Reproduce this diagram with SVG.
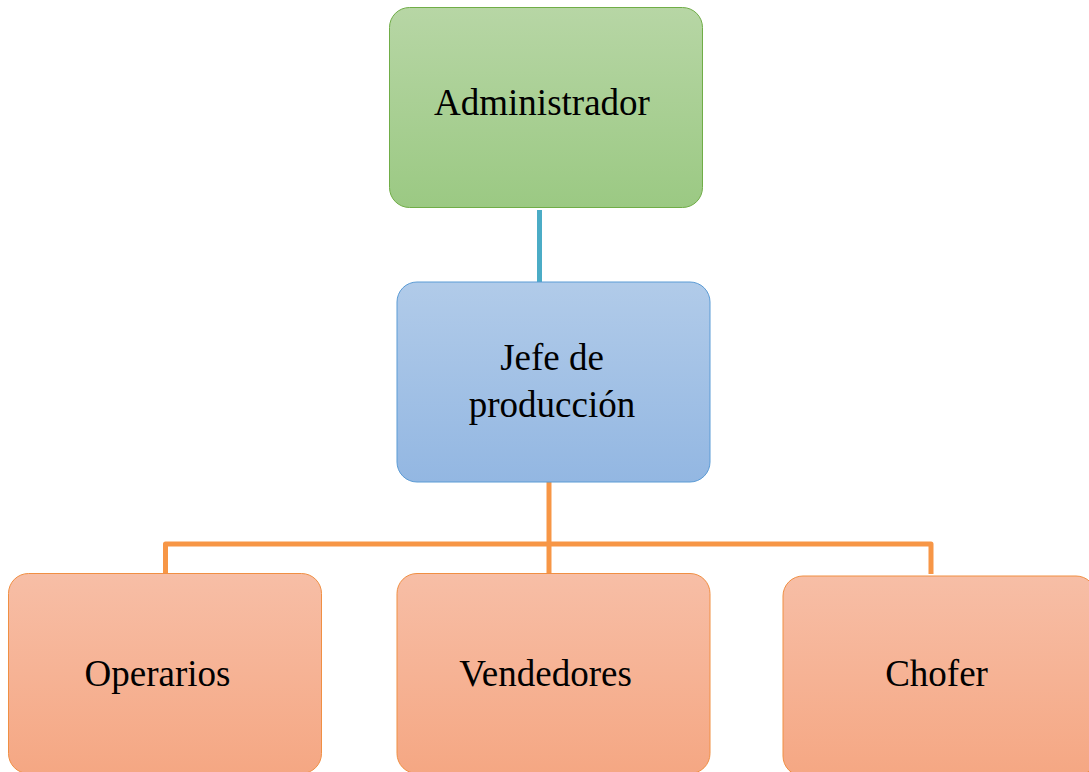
<svg xmlns="http://www.w3.org/2000/svg" width="1089" height="772" viewBox="0 0 1089 772">
<defs>
<linearGradient id="gG" x1="0" y1="0" x2="0" y2="1"><stop offset="0" stop-color="#b7d6a5"/><stop offset="1" stop-color="#9bc983"/></linearGradient>
<linearGradient id="gB" x1="0" y1="0" x2="0" y2="1"><stop offset="0" stop-color="#b1cbe9"/><stop offset="1" stop-color="#93b7e2"/></linearGradient>
<linearGradient id="gO" x1="0" y1="0" x2="0" y2="1"><stop offset="0" stop-color="#f7bea6"/><stop offset="1" stop-color="#f5a783"/></linearGradient>
<style>
.t{font-family:"Liberation Serif","Times New Roman",serif;font-size:37px;fill:#000;text-anchor:middle}
.g{fill:url(#gG);stroke:#70ad47;stroke-width:1}
.b{fill:url(#gB);stroke:#5b9bd5;stroke-width:1}
.o{fill:url(#gO);stroke:#f08f43;stroke-width:1}
.cb{stroke:#4bacc6;stroke-width:5;fill:none}
.co{stroke:#f79646;stroke-width:5;fill:none;stroke-linejoin:round}
</style>
</defs>
<rect width="1089" height="772" fill="#fff"/>
<g id="connectors">
<line class="cb" x1="539.5" y1="210" x2="539.5" y2="282"/>
<line class="co" x1="549" y1="482" x2="549" y2="573"/>
<path class="co" d="M165.5 573 V544 H931 V574"/>
</g>
<g id="admin"><rect class="g" x="389.5" y="7.5" width="313" height="200" rx="20"/><text class="t" x="542" y="115">Administrador</text></g>
<g id="jefe"><rect class="b" x="397" y="282" width="313" height="200" rx="20"/><text class="t" x="552" y="370">Jefe de</text><text class="t" x="552" y="417">producción</text></g>
<g id="operarios"><rect class="o" x="8.5" y="573.5" width="313" height="200" rx="20"/><text class="t" x="157.5" y="686">Operarios</text></g>
<g id="vendedores"><rect class="o" x="397" y="573.5" width="313" height="200" rx="20"/><text class="t" x="545.5" y="686">Vendedores</text></g>
<g id="chofer"><rect class="o" x="783" y="576" width="313" height="200" rx="20"/><text class="t" x="936.5" y="686">Chofer</text></g>
</svg>
